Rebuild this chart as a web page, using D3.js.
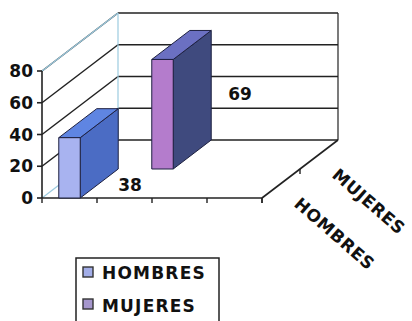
<!DOCTYPE html>
<html>
<head>
<meta charset="utf-8">
<script src="https://cdn.jsdelivr.net/npm/d3@7"></script>
<style>
  html, body { margin: 0; padding: 0; background: #fff; }
  svg { display: block; }
  text { font-family: "DejaVu Sans", Arial, sans-serif; font-weight: bold; fill: #111; }
</style>
</head>
<body>
<div id="chart"></div>
<script>
// series on the depth axis
const series = ['HOMBRES', 'MUJERES'];
const values = [38, 69];
const yTicks = [0, 20, 40, 60, 80];
// x axis slots (no labels in the original)
const slots = ['', '', '', ''];

const colors = {
  HOMBRES: { front: '#a8b3f0', side: '#4b6cc4', top: '#5f85e2', legend: '#a3aee8' },
  MUJERES: { front: '#b47ccc', side: '#3f4a7e', top: '#6b70c2', legend: '#a596cc' }
};

const width = 412, height = 321;
const svg = d3.select('#chart').append('svg')
  .attr('width', width).attr('height', height);

// front plane scales
const x = d3.scaleBand().domain(d3.range(slots.length)).range([42, 262]);
const y = d3.scaleLinear().domain([0, 80]).range([198, 71]);
// depth: 0 = front, 1 = back wall
const depth = d3.scaleBand().domain(series).range([0, 1]);
const depthDx = 76, depthDy = -58;
const px = (xx, d) => xx + d * depthDx;
const py = (yy, d) => yy + d * depthDy;

const grid = svg.append('g').attr('fill', 'none');
const dark = '#222', light = '#9ccbe0';
const lw = 1.5;

// left wall + back wall gridlines
yTicks.forEach(v => {
  grid.append('line')
    .attr('x1', x.range()[0]).attr('y1', y(v))
    .attr('x2', px(x.range()[0], 1)).attr('y2', py(y(v), 1))
    .attr('stroke', v === 0 ? light : dark).attr('stroke-width', v === 0 ? 1.2 : lw);
  grid.append('line')
    .attr('x1', px(x.range()[0], 1)).attr('y1', py(y(v), 1))
    .attr('x2', px(x.range()[1], 1)).attr('y2', py(y(v), 1))
    .attr('stroke', dark).attr('stroke-width', lw);
});
// left wall back edge + top
grid.append('line')
  .attr('x1', px(x.range()[0], 1)).attr('y1', py(y(0), 1))
  .attr('x2', px(x.range()[0], 1)).attr('y2', py(y(80), 1))
  .attr('stroke', light).attr('stroke-width', 1.2);
grid.append('line')
  .attr('x1', x.range()[0]).attr('y1', y(80))
  .attr('x2', px(x.range()[0], 1)).attr('y2', py(y(80), 1))
  .attr('stroke', light).attr('stroke-width', 1.2);
// back wall right edge
grid.append('line')
  .attr('x1', px(x.range()[1], 1)).attr('y1', py(y(0), 1))
  .attr('x2', px(x.range()[1], 1)).attr('y2', py(y(80), 1))
  .attr('stroke', dark).attr('stroke-width', 1.2);

// floor edges
grid.append('line')
  .attr('x1', x.range()[0]).attr('y1', y(0))
  .attr('x2', x.range()[1]).attr('y2', y(0))
  .attr('stroke', dark).attr('stroke-width', 1.6);
grid.append('line')
  .attr('x1', x.range()[1]).attr('y1', y(0))
  .attr('x2', px(x.range()[1], 1)).attr('y2', py(y(0), 1))
  .attr('stroke', dark).attr('stroke-width', 1.6);

// x ticks on front floor edge
d3.range(slots.length + 1).forEach(i => {
  const xx = x.range()[0] + i * x.step();
  grid.append('line').attr('x1', xx).attr('x2', xx)
    .attr('y1', y(0)).attr('y2', y(0) + 5)
    .attr('stroke', dark).attr('stroke-width', 1.4);
});

// y axis
const yAxis = svg.append('g');
yAxis.append('line')
  .attr('x1', x.range()[0]).attr('x2', x.range()[0])
  .attr('y1', y(0)).attr('y2', y(80))
  .attr('stroke', dark).attr('stroke-width', 1.6);
yTicks.forEach(v => {
  yAxis.append('line')
    .attr('x1', x.range()[0] - 5).attr('x2', x.range()[0])
    .attr('y1', y(v)).attr('y2', y(v))
    .attr('stroke', dark).attr('stroke-width', 1.6);
  yAxis.append('text')
    .attr('x', x.range()[0] - 9).attr('y', y(v) + 6)
    .attr('text-anchor', 'end')
    .attr('font-size', 17)
    .text(v);
});

// depth axis ticks + labels
const dTickLen = 5;
[0, 0.5].forEach(d => {
  grid.append('line')
    .attr('x1', px(x.range()[1], d)).attr('y1', py(y(0), d))
    .attr('x2', px(x.range()[1], d)).attr('y2', py(y(0), d) + dTickLen)
    .attr('stroke', dark).attr('stroke-width', 1.4);
});
series.forEach(s => {
  const d = depth(s) + depth.bandwidth() / 2;
  const ax = px(x.range()[1], d) + 12, ay = py(y(0), d) + 22;
  svg.append('text')
    .attr('transform', `translate(${ax},${ay}) rotate(41)`)
    .attr('font-size', 17).attr('letter-spacing', 0.6)
    .text(s);
});

// bars, back ones first
const barW = x.bandwidth() * 0.39;
const bars = series.map((s, i) => {
  const d0 = depth(s), d1 = d0 + depth.bandwidth();
  const x0 = x(i) + (x.bandwidth() - barW) / 2, x1 = x0 + barW;
  return { s, v: values[i], d0, d1, x0, x1 };
});
bars.slice().reverse().forEach(b => {
  const g = svg.append('g').attr('stroke', '#1d2040').attr('stroke-width', 1).attr('stroke-linejoin', 'round');
  const top = y(b.v), bot = y(0);
  const pt = (xx, yy, d) => [px(xx, d), py(yy, d)];
  g.append('polygon')
    .attr('points', [pt(b.x1, top, b.d0), pt(b.x1, top, b.d1), pt(b.x1, bot, b.d1), pt(b.x1, bot, b.d0)].join(' '))
    .attr('fill', colors[b.s].side);
  g.append('polygon')
    .attr('points', [pt(b.x0, top, b.d0), pt(b.x1, top, b.d0), pt(b.x1, top, b.d1), pt(b.x0, top, b.d1)].join(' '))
    .attr('fill', colors[b.s].top);
  g.append('polygon')
    .attr('points', [pt(b.x0, top, b.d0), pt(b.x1, top, b.d0), pt(b.x1, bot, b.d0), pt(b.x0, bot, b.d0)].join(' '))
    .attr('fill', colors[b.s].front);
});

// value labels
const labelNudge = [[0, -7], [17, -69]];
bars.forEach((b, i) => {
  svg.append('text')
    .attr('x', px(b.x1, b.d1) + labelNudge[i][0])
    .attr('y', py(y(0), b.d0) + labelNudge[i][1])
    .attr('font-size', 17)
    .text(b.v);
});

// legend
const legend = svg.append('g').attr('transform', 'translate(76,258)');
legend.append('rect')
  .attr('x', 0).attr('y', 0).attr('width', 143).attr('height', 70)
  .attr('fill', '#fff').attr('stroke', dark).attr('stroke-width', 1.5);
series.forEach((s, i) => {
  legend.append('rect')
    .attr('x', 7).attr('y', 9 + i * 32).attr('width', 10).attr('height', 10)
    .attr('fill', colors[s].legend).attr('stroke', '#333').attr('stroke-width', 1.4);
  legend.append('text')
    .attr('x', 26).attr('y', 21 + i * 33)
    .attr('font-size', 17).attr('letter-spacing', 1.2)
    .text(s);
});
</script>
</body>
</html>
